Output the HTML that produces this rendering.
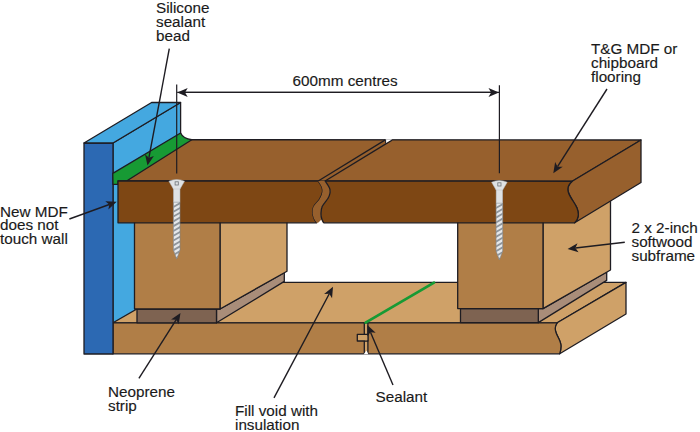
<!DOCTYPE html>
<html><head><meta charset="utf-8"><style>
html,body{margin:0;padding:0;background:#fff;width:700px;height:432px;overflow:hidden}
svg{display:block;font-family:"Liberation Sans", sans-serif}
</style></head><body>
<svg width="700" height="432" viewBox="0 0 700 432">
<rect width="700" height="432" fill="#ffffff"/>
<polygon points="113,143 180.6,102.5 180.6,300 113,330" fill="#44a8e0" stroke="#1e1c22" stroke-width="1.3" stroke-linejoin="round"/><polygon points="113,322.8 557.2,322.8 626,282.4 183,282.4" fill="#cfa168" stroke="#1e1c22" stroke-width="1.3" stroke-linejoin="round"/><path d="M557.2,322.8 C555,325.5 554.8,329 556,332.5 C557.5,337 561,341 561,346 C561,349.5 560.5,351.5 559.7,353.8 L626,314 L626,282.4 Z" fill="#cfa168" stroke="#1e1c22" stroke-width="1.3" stroke-linejoin="round"/><path d="M113,322.8 L557.2,322.8 C555,325.5 554.8,329 556,332.5 C557.5,337 561,341 561,346 C561,349.5 560.5,351.5 559.7,353.8 L113,353.8 Z" fill="#b07e47" stroke="#1e1c22" stroke-width="1.3" stroke-linejoin="round"/><polygon points="364.3,322.8 367.9,322.8 367.9,353.8 364.3,353.8" fill="#cfa168" stroke="#1e1c22" stroke-width="1.3" stroke-linejoin="round"/><polygon points="357.3,334.3 367.9,334.3 367.9,341 357.3,341" fill="#cfa168" stroke="#1e1c22" stroke-width="1.3" stroke-linejoin="round"/><rect x="365" y="335" width="2.2" height="5.3" fill="#cfa168"/><polygon points="363.5,354.5 368.5,354.5 366.5,350.5" fill="#fff"/><line x1="365.6" y1="322.6" x2="434" y2="282.6" stroke="#179a34" stroke-width="2.8" stroke-linecap="round"/><polygon points="216.5,309 220,309 284.3,272.7 284.3,281.4 216.5,322.8" fill="#a98d79" stroke="#1e1c22" stroke-width="1.3" stroke-linejoin="round"/><polygon points="137,309 216.5,309 216.5,322.8 137,322.8" fill="#7e6351" stroke="#1e1c22" stroke-width="1.3" stroke-linejoin="round"/><polygon points="538.3,308.6 543,308.6 606.7,272 606.7,280.4 538.3,322.6" fill="#a98d79" stroke="#1e1c22" stroke-width="1.3" stroke-linejoin="round"/><polygon points="460.5,308.6 538.3,308.6 538.3,322.6 460.5,322.6" fill="#7e6351" stroke="#1e1c22" stroke-width="1.3" stroke-linejoin="round"/><polygon points="220,215 287,215 287,271.3 220,309" fill="#cfa168" stroke="#1e1c22" stroke-width="1.3" stroke-linejoin="round"/><polygon points="134.5,215 220,215 220,309 134.5,309" fill="#b07e47" stroke="#1e1c22" stroke-width="1.3" stroke-linejoin="round"/><polygon points="543,215 575,215 610.5,195 610.5,270 543,308.6" fill="#cfa168" stroke="#1e1c22" stroke-width="1.3" stroke-linejoin="round"/><polygon points="457.7,215 543,215 543,308.6 457.7,308.6" fill="#b07e47" stroke="#1e1c22" stroke-width="1.3" stroke-linejoin="round"/><polygon points="84,143 113,143 113,354 84,354" fill="#2c69b3" stroke="#1e1c22" stroke-width="1.3" stroke-linejoin="round"/><polygon points="84,143 113,143 180.6,102.5 151.6,102.5" fill="#44a8e0" stroke="#1e1c22" stroke-width="1.3" stroke-linejoin="round"/><polygon points="118,181 572.2,181.2 641,140 188.7,139.7" fill="#97602d" stroke="#1e1c22" stroke-width="1.3" stroke-linejoin="round"/><line x1="318.2" y1="181" x2="385.3" y2="139.9" stroke="#1e1c22" stroke-width="1.3"/><line x1="325.1" y1="181" x2="392" y2="140.1" stroke="#1e1c22" stroke-width="1.3"/><polygon points="385.6,139.2 392.3,139.2 385.6,143.3" fill="#fff"/><line x1="385.6" y1="139.7" x2="385.6" y2="143.3" stroke="#1e1c22" stroke-width="1"/><path d="M112.8,173.4 L180.6,133 Q183,138.5 191.8,139.7 L127,180.8 L118,181 L118,184.3 L113,184.3 Z" fill="#179a34" stroke="#1e1c22" stroke-width="1.3" stroke-linejoin="round"/><path d="M572.2,181.3 C568,185 567,188 568.3,192 C569.5,197 575,203 577,208 C579,213 578.5,219 574.7,222.8 L641,182.5 L641,140 Z" fill="#97602d" stroke="#1e1c22" stroke-width="1.3" stroke-linejoin="round"/><path d="M118,181 L318.2,181 C318.78,181.95 321.00,184.83 321.70,186.70 C322.40,188.57 322.75,190.12 322.40,192.20 C322.05,194.28 321.00,196.88 319.60,199.20 C318.20,201.52 315.17,204.02 314.00,206.10 C312.83,208.18 312.60,209.62 312.60,211.70 C312.60,213.78 313.30,216.75 314.00,218.60 C314.70,220.45 316.33,222.10 316.80,222.80 L118,222.8 Z" fill="#7e4714" stroke="#1e1c22" stroke-width="1.3" stroke-linejoin="round"/><path d="M318.2,181 C318.78,181.95 321.00,184.83 321.70,186.70 C322.40,188.57 322.75,190.12 322.40,192.20 C322.05,194.28 321.00,196.88 319.60,199.20 C318.20,201.52 315.17,204.02 314.00,206.10 C312.83,208.18 312.60,209.62 312.60,211.70 C312.60,213.78 313.30,216.75 314.00,218.60 C314.70,220.45 316.33,222.10 316.80,222.80 L323.75,222.8 C323.43,222.17 322.26,220.55 321.80,219.00 C321.34,217.45 320.93,215.58 321.00,213.50 C321.07,211.42 321.05,209.00 322.20,206.50 C323.35,204.00 326.60,200.75 327.90,198.50 C329.20,196.25 329.73,194.75 330.00,193.00 C330.27,191.25 330.32,190.00 329.50,188.00 C328.68,186.00 325.83,182.17 325.10,181.00 Z" fill="#97602d"/><path d="M325.1,181 L572.2,181.3 C568,185 567,188 568.3,192 C569.5,197 575,203 577,208 C579,213 578.5,219 574.7,222.8 L323.75,222.8 C323.43,222.17 322.26,220.55 321.80,219.00 C321.34,217.45 320.93,215.58 321.00,213.50 C321.07,211.42 321.05,209.00 322.20,206.50 C323.35,204.00 326.60,200.75 327.90,198.50 C329.20,196.25 329.73,194.75 330.00,193.00 C330.27,191.25 330.32,190.00 329.50,188.00 C328.68,186.00 325.83,182.17 325.10,181.00 Z" fill="#7e4714" stroke="#1e1c22" stroke-width="1.3" stroke-linejoin="round"/><polygon points="317.5,223.6 323,223.6 321.2,219.8" fill="#fff"/><clipPath id="sc1"><path d="M173.39999999999998,202 L180.0,202 L180.0,250 L176.7,259 L173.39999999999998,250 Z"/></clipPath><path d="M173.39999999999998,202 L180.0,202 L180.0,250 L176.7,259 L173.39999999999998,250 Z" fill="#e6e8ea"/><g clip-path="url(#sc1)"><path d="M172.39999999999998,206.5 L181.0,201.5 L181.0,203.6 L172.39999999999998,208.6 Z" fill="#8f959b"/><path d="M172.39999999999998,211.3 L181.0,206.3 L181.0,208.4 L172.39999999999998,213.4 Z" fill="#8f959b"/><path d="M172.39999999999998,216.1 L181.0,211.1 L181.0,213.2 L172.39999999999998,218.2 Z" fill="#8f959b"/><path d="M172.39999999999998,220.9 L181.0,215.9 L181.0,218.0 L172.39999999999998,223.0 Z" fill="#8f959b"/><path d="M172.39999999999998,225.7 L181.0,220.7 L181.0,222.79999999999998 L172.39999999999998,227.79999999999998 Z" fill="#8f959b"/><path d="M172.39999999999998,230.5 L181.0,225.5 L181.0,227.6 L172.39999999999998,232.6 Z" fill="#8f959b"/><path d="M172.39999999999998,235.3 L181.0,230.3 L181.0,232.4 L172.39999999999998,237.4 Z" fill="#8f959b"/><path d="M172.39999999999998,240.1 L181.0,235.1 L181.0,237.2 L172.39999999999998,242.2 Z" fill="#8f959b"/><path d="M172.39999999999998,244.9 L181.0,239.9 L181.0,242.0 L172.39999999999998,247.0 Z" fill="#8f959b"/><path d="M172.39999999999998,249.7 L181.0,244.7 L181.0,246.79999999999998 L172.39999999999998,251.79999999999998 Z" fill="#8f959b"/><path d="M172.39999999999998,254.5 L181.0,249.5 L181.0,251.6 L172.39999999999998,256.6 Z" fill="#8f959b"/><path d="M172.39999999999998,259.3 L181.0,254.3 L181.0,256.40000000000003 L172.39999999999998,261.40000000000003 Z" fill="#8f959b"/><path d="M172.39999999999998,264.1 L181.0,259.1 L181.0,261.20000000000005 L172.39999999999998,266.20000000000005 Z" fill="#8f959b"/><path d="M172.39999999999998,268.9 L181.0,263.9 L181.0,266.0 L172.39999999999998,271.0 Z" fill="#8f959b"/></g><path d="M173.39999999999998,202 L180.0,202 L180.0,250 L176.7,259 L173.39999999999998,250 Z" fill="none" stroke="#7d8388" stroke-width="0.6"/><rect x="173.39999999999998" y="187" width="6.6" height="15" fill="#dfe2e4" stroke="#a9aeb2" stroke-width="0.5"/><path d="M168.89999999999998,181.2 Q176.7,177.8 184.5,181.2 L180.0,189 L173.39999999999998,189 Z" fill="#dfe2e4" stroke="#b9bec2" stroke-width="0.5"/><rect x="175.1" y="181.8" width="3.2" height="3.2" fill="none" stroke="#6d7378" stroke-width="0.8"/><clipPath id="sc2"><path d="M496.09999999999997,203 L502.7,203 L502.7,251 L499.4,260 L496.09999999999997,251 Z"/></clipPath><path d="M496.09999999999997,203 L502.7,203 L502.7,251 L499.4,260 L496.09999999999997,251 Z" fill="#e6e8ea"/><g clip-path="url(#sc2)"><path d="M495.09999999999997,207.5 L503.7,202.5 L503.7,204.6 L495.09999999999997,209.6 Z" fill="#8f959b"/><path d="M495.09999999999997,212.3 L503.7,207.3 L503.7,209.4 L495.09999999999997,214.4 Z" fill="#8f959b"/><path d="M495.09999999999997,217.1 L503.7,212.1 L503.7,214.2 L495.09999999999997,219.2 Z" fill="#8f959b"/><path d="M495.09999999999997,221.9 L503.7,216.9 L503.7,219.0 L495.09999999999997,224.0 Z" fill="#8f959b"/><path d="M495.09999999999997,226.7 L503.7,221.7 L503.7,223.79999999999998 L495.09999999999997,228.79999999999998 Z" fill="#8f959b"/><path d="M495.09999999999997,231.5 L503.7,226.5 L503.7,228.6 L495.09999999999997,233.6 Z" fill="#8f959b"/><path d="M495.09999999999997,236.3 L503.7,231.3 L503.7,233.4 L495.09999999999997,238.4 Z" fill="#8f959b"/><path d="M495.09999999999997,241.1 L503.7,236.1 L503.7,238.2 L495.09999999999997,243.2 Z" fill="#8f959b"/><path d="M495.09999999999997,245.9 L503.7,240.9 L503.7,243.0 L495.09999999999997,248.0 Z" fill="#8f959b"/><path d="M495.09999999999997,250.7 L503.7,245.7 L503.7,247.79999999999998 L495.09999999999997,252.79999999999998 Z" fill="#8f959b"/><path d="M495.09999999999997,255.5 L503.7,250.5 L503.7,252.6 L495.09999999999997,257.6 Z" fill="#8f959b"/><path d="M495.09999999999997,260.3 L503.7,255.3 L503.7,257.40000000000003 L495.09999999999997,262.40000000000003 Z" fill="#8f959b"/><path d="M495.09999999999997,265.1 L503.7,260.1 L503.7,262.20000000000005 L495.09999999999997,267.20000000000005 Z" fill="#8f959b"/><path d="M495.09999999999997,269.9 L503.7,264.9 L503.7,267.0 L495.09999999999997,272.0 Z" fill="#8f959b"/></g><path d="M496.09999999999997,203 L502.7,203 L502.7,251 L499.4,260 L496.09999999999997,251 Z" fill="none" stroke="#7d8388" stroke-width="0.6"/><rect x="496.09999999999997" y="188" width="6.6" height="15" fill="#dfe2e4" stroke="#a9aeb2" stroke-width="0.5"/><path d="M491.59999999999997,182.2 Q499.4,178.8 507.2,182.2 L502.7,190 L496.09999999999997,190 Z" fill="#dfe2e4" stroke="#b9bec2" stroke-width="0.5"/><rect x="497.79999999999995" y="182.8" width="3.2" height="3.2" fill="none" stroke="#6d7378" stroke-width="0.8"/><line x1="176.7" y1="84.4" x2="176.7" y2="173.6" stroke="#1e1c22" stroke-width="1.2"/><line x1="499.4" y1="85.2" x2="499.4" y2="173.3" stroke="#1e1c22" stroke-width="1.2"/><line x1="499.00" y1="92.40" x2="185.10" y2="92.40" stroke="#1e1c22" stroke-width="1.4"/><polygon points="177.20,92.40 187.70,87.90 185.10,92.40 187.70,96.90" fill="#1e1c22"/><line x1="177.20" y1="92.40" x2="491.10" y2="92.40" stroke="#1e1c22" stroke-width="1.4"/><polygon points="499.00,92.40 488.50,96.90 491.10,92.40 488.50,87.90" fill="#1e1c22"/><line x1="169.30" y1="48.60" x2="148.95" y2="157.73" stroke="#1e1c22" stroke-width="1.4"/><polygon points="147.50,165.50 145.00,154.35 148.95,157.73 153.85,156.00" fill="#1e1c22"/><line x1="607.00" y1="89.00" x2="557.54" y2="166.64" stroke="#1e1c22" stroke-width="1.4"/><polygon points="553.30,173.30 555.15,162.03 557.54,166.64 562.74,166.86" fill="#1e1c22"/><line x1="69.40" y1="219.00" x2="109.28" y2="204.50" stroke="#1e1c22" stroke-width="1.4"/><polygon points="116.70,201.80 108.37,209.62 109.28,204.50 105.29,201.16" fill="#1e1c22"/><line x1="624.80" y1="242.20" x2="575.44" y2="248.07" stroke="#1e1c22" stroke-width="1.4"/><polygon points="567.60,249.00 577.50,243.29 575.44,248.07 578.56,252.23" fill="#1e1c22"/><line x1="138.90" y1="378.30" x2="176.26" y2="319.66" stroke="#1e1c22" stroke-width="1.4"/><polygon points="180.50,313.00 178.65,324.27 176.26,319.66 171.06,319.44" fill="#1e1c22"/><line x1="274.00" y1="397.90" x2="329.29" y2="293.78" stroke="#1e1c22" stroke-width="1.4"/><polygon points="333.00,286.80 332.05,298.18 329.29,293.78 324.10,293.96" fill="#1e1c22"/><line x1="393.00" y1="385.00" x2="370.50" y2="332.17" stroke="#1e1c22" stroke-width="1.4"/><polygon points="367.40,324.90 375.65,332.80 370.50,332.17 367.37,336.32" fill="#1e1c22"/>
<g transform="translate(0,0.7)" font-family="Liberation Sans, sans-serif" font-size="15.25" fill="#1a1a1a" stroke="#1a1a1a" stroke-width="0.15"><text x="156" y="12.3">Silicone</text><text x="156" y="26.3">sealant</text><text x="156" y="40.3">bead</text><text x="292.6" y="85.2">600mm centres</text><text x="591" y="53.2">T&amp;G MDF or</text><text x="591" y="67.2">chipboard</text><text x="591" y="81.1">flooring</text><text x="0" y="216.1">New MDF</text><text x="0" y="229.8">does not</text><text x="0" y="243.5">touch wall</text><text x="631.5" y="232.4">2 x 2-inch</text><text x="631.5" y="246.3">softwood</text><text x="631.5" y="260.4">subframe</text><text x="108" y="396.4">Neoprene</text><text x="108" y="410.3">strip</text><text x="235" y="415.4">Fill void with</text><text x="235" y="428.9">insulation</text><text x="375.5" y="401.4">Sealant</text></g>
</svg>
</body></html>
